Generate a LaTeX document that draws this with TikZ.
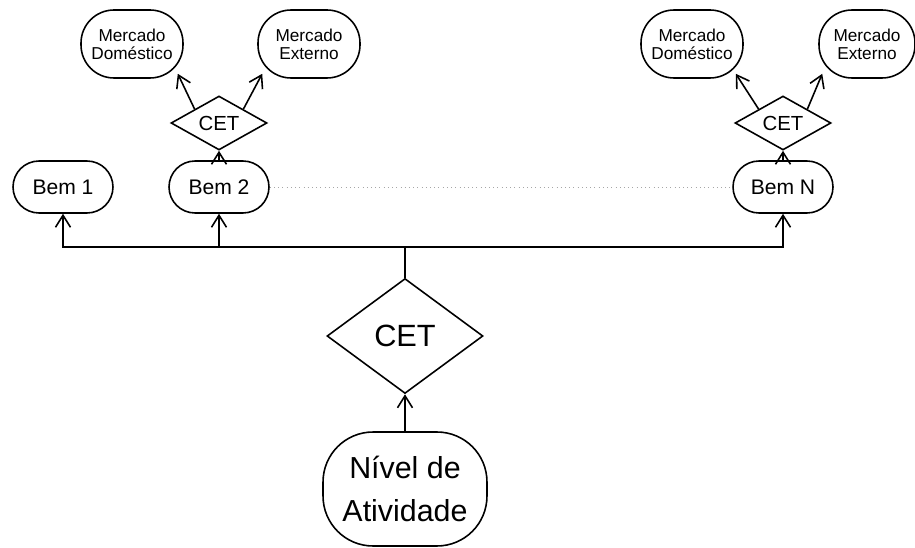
\documentclass[tikz,border=0pt]{standalone}
\usepackage{fontspec}
\setmainfont{Liberation Sans}
\usetikzlibrary{arrows.meta,shapes.geometric,positioning,calc}

\tikzset{
  >={Straight Barb[length=2.4mm,width=3mm]},
  every node/.style={inner sep=0pt},
  bem/.style={draw,line width=0.9pt,rounded corners=5.2mm,
    minimum width=20mm,minimum height=10.4mm,
    font=\fontsize{12}{14}\selectfont},
  mercado/.style={draw,line width=0.9pt,rounded corners=6.6mm,
    minimum width=20.4mm,minimum height=13.6mm,align=center,
    font=\fontsize{9.8}{10.4}\selectfont},
  cet/.style={draw,diamond,aspect=1.78,line width=0.9pt,
    minimum width=19.2mm,minimum height=10.8mm,
    font=\fontsize{11.6}{13}\selectfont},
  link/.style={line width=0.9pt}
}

\begin{document}
\begin{tikzpicture}[x=0.02cm,y=-0.02cm]
        \useasboundingbox (0,0) rectangle (915,547);
        % level of activity and main CET
        \node[draw,line width=0.9pt,rounded corners=10mm,
          minimum width=32.8mm,minimum height=22.8mm,align=center,
          font=\fontsize{17.3}{24.5}\selectfont]
        (nivel) at (405,489) {Nível de\\Atividade};
        \node[draw,diamond,line width=0.9pt,aspect=1.36,
          minimum width=31.2mm,minimum height=23mm,
          font=\fontsize{17.5}{20}\selectfont]
        (cetmain) at (405,336) {CET};
        \coordinate (jn) at (405,247);
        % goods
        \node[bem] (bem1) at (63,187) {Bem 1};
        \node[bem] (bem2) at (219,187) {Bem 2};
        \node[bem] (bemN) at (783,187) {Bem N};
        % CET of each good
        \node[cet] (cet2) at (219,123) {CET};
        \node[cet] (cetN) at (783,123) {CET};
        % markets
        \node[mercado] (dom2) at (132,44) {Mercado\\Doméstico};
        \node[mercado] (ext2) at (309,44) {Mercado\\Externo};
        \node[mercado] (domN) at (692,44) {Mercado\\Doméstico};
        \node[mercado,minimum width=19.2mm] (extN) at (867,44) {Mercado\\Externo};

        \draw[link,->] (nivel.north) -- (cetmain.south);
        \draw[link] (cetmain.north) -- (jn);
        \draw[link,->] (jn) -| (bem1.south);
        \draw[link,->] (jn) -| (bem2.south);
        \draw[link,->] (jn) -| (bemN.south);
        \draw[gray!70,dotted] (bem2.east) -- (bemN.west);
        \draw[link,->] (bem2.north) -- (cet2.south);
        \draw[link,->] (bemN.north) -- (cetN.south);
        \draw[link,->] ($(cet2.west)!0.5!(cet2.north)$) -- ($(dom2.south east)+(-6,-5)$);
        \draw[link,->] ($(cet2.east)!0.5!(cet2.north)$) -- ($(ext2.south west)+(5,-5)$);
        \draw[link,->] ($(cetN.west)!0.5!(cetN.north)$) -- ($(domN.south east)+(-8,-5)$);
        \draw[link,->] ($(cetN.east)!0.5!(cetN.north)$) -- ($(extN.south west)+(4,-5)$);
\end{tikzpicture}
\end{document}
